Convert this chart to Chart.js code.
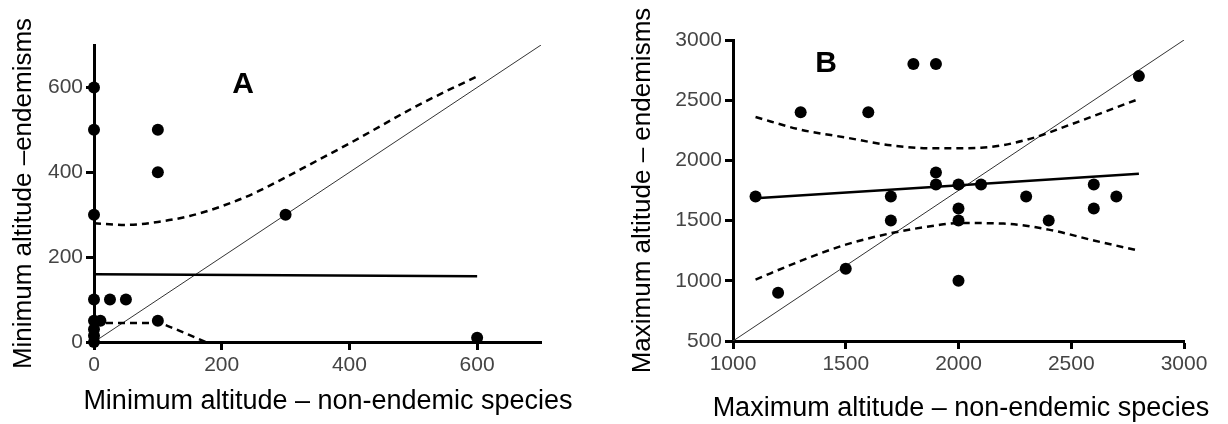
<!DOCTYPE html>
<html>
<head>
<meta charset="utf-8">
<script src="https://cdn.jsdelivr.net/npm/chart.js@4.4.1/dist/chart.umd.min.js"></script>
<style>
 body { margin: 0; background: #fff; width: 1228px; height: 424px; position: relative; overflow: hidden; }
 canvas { position: absolute; top: 0; }
 #chartA { left: 0; }
 #chartB { left: 600px; }
 .lbl { position: absolute; font-family: "Liberation Sans", Arial, sans-serif; line-height: 1; white-space: nowrap; transform: translate(-50%, -50%); color: #000; }
 .panel { font-size: 30px; font-weight: bold; }
 .xtitle { font-size: 27px; }
</style>
</head>
<body>
<canvas id="chartA" width="600" height="424"></canvas>
<canvas id="chartB" width="628" height="424"></canvas>
<div class="lbl panel" style="left:243px;top:83px">A</div>
<div class="lbl panel" style="left:826px;top:62px">B</div>
<div class="lbl xtitle" style="left:328px;top:400px">Minimum altitude – non-endemic species</div>
<div class="lbl xtitle" style="left:961px;top:407px">Maximum altitude – non-endemic species</div>
<script>
// panel A: minimum altitudes
const minNonEndemic = [0, 0, 0, 0, 0, 0, 0, 0, 10, 25, 50, 100, 100, 100, 300, 600];
const minEndemic = [600, 500, 300, 100, 50, 30, 15, 0, 50, 100, 100, 500, 400, 50, 300, 10];
const minFitX = [0, 600];
const minFitY = [160, 155];
const minUpperX = [0, 50, 100, 150, 200, 250, 300, 350, 400, 450, 500, 550, 600];
const minUpperY = [280, 276, 283, 297, 320, 350, 388, 428, 468, 510, 552, 590, 626];
const minLowerX = [0, 50, 100, 125, 150, 175];
const minLowerY = [45, 45, 44, 32, 16, 0];
const minDiagX = [0, 700];
const minDiagY = [0, 700];
const minTicks = [0, 200, 400, 600];

// panel B: maximum altitudes
const maxNonEndemic = [1100, 1200, 1300, 1500, 1600, 1700, 1700, 1800, 1900, 1900, 1900, 2000, 2000, 2000, 2000, 2100, 2300, 2400, 2600, 2600, 2700, 2800];
const maxEndemic = [1700, 900, 2400, 1100, 2400, 1700, 1500, 2800, 2800, 1900, 1800, 1800, 1600, 1500, 1000, 1800, 1700, 1500, 1800, 1600, 1700, 2700];
const maxFitX = [1100, 2800];
const maxFitY = [1685, 1890];
const maxUpperX = [1100, 1300, 1500, 1700, 1900, 2100, 2300, 2500, 2700, 2800];
const maxUpperY = [2360, 2255, 2190, 2125, 2100, 2105, 2170, 2300, 2440, 2510];
const maxLowerX = [1100, 1300, 1500, 1700, 1900, 2000, 2200, 2400, 2600, 2800];
const maxLowerY = [1010, 1165, 1300, 1395, 1460, 1480, 1475, 1425, 1335, 1250];
const maxDiagX = [1000, 3000];
const maxDiagY = [500, 3000];
const maxTicksX = [1000, 1500, 2000, 2500, 3000];
const maxTicksY = [500, 1000, 1500, 2000, 2500, 3000];

const FONT = "'Liberation Sans', Arial, sans-serif";

const pts = (xs, ys) => xs.map((x, i) => ({ x: x, y: ys[i] }));

function dots(xs, ys) {
 return {
  data: pts(xs, ys),
  showLine: false,
  pointRadius: 6,
  pointBackgroundColor: "#000",
  pointBorderWidth: 0,
  clip: false,
 };
}

function curve(xs, ys, width, dash, color) {
 return {
  data: pts(xs, ys),
  showLine: true,
  pointRadius: 0,
  borderColor: color || "#000",
  borderWidth: width,
  borderDash: dash || [],
  cubicInterpolationMode: "monotone",
  fill: false,
 };
}

// x titles are html labels (chart.js squeezes them to the axis width)
function axis(min, max, ticks, title, size, horizontal, titlePad) {
 return {
  type: "linear",
  min: min,
  max: max,
  bounds: "data",
  afterBuildTicks: (s) => {
   s.ticks = ticks.map((v) => ({ value: v }));
  },
  afterFit: (s) => {
   if (horizontal) s.height = size;
   else s.width = size;
  },
  border: { display: true, color: "#000", width: 3 },
  grid: {
   drawOnChartArea: false,
   drawTicks: true,
   tickLength: 8,
   tickWidth: 3,
   tickColor: "#000",
  },
  ticks: {
   color: "#444",
   font: { size: 21, family: FONT },
   padding: 3,
   maxRotation: 0,
   autoSkip: false,
   callback: (v) => String(v),
  },
  title: {
   display: !!title,
   text: title || "",
   color: "#000",
   font: { size: 26, family: FONT },
   padding: titlePad,
  },
 };
}

function build(id, datasets, scales, padding) {
 return new Chart(document.getElementById(id).getContext("2d"), {
  type: "scatter",
  data: { datasets: datasets },
  options: {
   responsive: false,
   animation: false,
   devicePixelRatio: 1,
   layout: { padding: padding },
   plugins: { legend: { display: false }, tooltip: { enabled: false } },
   scales: scales,
  },
 });
}

document.addEventListener("DOMContentLoaded", () => {
 build(
  "chartA",
  [
   dots(minNonEndemic, minEndemic),
   curve(minFitX, minFitY, 2.5),
   curve(minUpperX, minUpperY, 2.5, [7, 5]),
   curve(minLowerX, minLowerY, 2.5, [7, 5]),
   curve(minDiagX, minDiagY, 1, [], "#333"),
  ],
  {
   x: axis(0, 700, minTicks, null, 82, true, 0),
   y: axis(0, 700, minTicks, "Minimum altitude \u2013endemisms", 94, false, { top: 8, bottom: 0 }),
  },
  { left: 0, top: 45, right: 59, bottom: 0 }
 );

 build(
  "chartB",
  [
   dots(maxNonEndemic, maxEndemic),
   curve(maxFitX, maxFitY, 2.5),
   curve(maxUpperX, maxUpperY, 2.5, [7, 5]),
   curve(maxLowerX, maxLowerY, 2.5, [7, 5]),
   curve(maxDiagX, maxDiagY, 1, [], "#333"),
  ],
  {
   x: axis(1000, 3000, maxTicksX, null, 83, true, 0),
   y: axis(500, 3000, maxTicksY, "Maximum altitude \u2013 endemisms", 133, false, { top: 27, bottom: 0 }),
  },
  { left: 0, top: 40, right: 44, bottom: 0 }
 );
});
</script>
</body>
</html>
